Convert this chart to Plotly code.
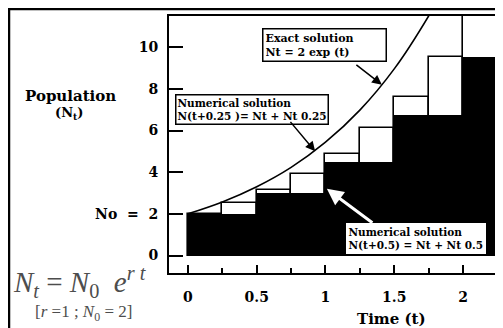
import plotly.graph_objects as go

# ---- data ----
# exact solution Nt = 2 exp(t)
curve_t = [0, 0.25, 0.5, 0.75, 1.0, 1.25, 1.5, 1.75, 1.85]
curve_n = [2, 2.57, 3.30, 4.23, 5.44, 6.98, 8.96, 11.5, 12.7]

# numerical solution with step 0.25 (white steps)
step25_t = [0.125, 0.375, 0.625, 0.875, 1.125, 1.375, 1.625, 1.875, 2.125]
step25_n = [2, 2.5, 3.125, 3.906, 4.883, 6.104, 7.629, 9.537, 11.92]

# numerical solution with step 0.5 (black steps)
step50_t = [0.25, 0.75, 1.25, 1.75, 2.25]
step50_n = [2, 3, 4.5, 6.75, 9.54]

y_tickvals = [0, 2, 4, 6, 8, 10]
y_ticktext = ["0", "No  =  2", "4", "6", "8", "10"]

# the page places the figure 8px from the window's top-left corner
OFF = 8
W, H = 503 - OFF, 328 - OFF
FONT = "DejaVu Serif"


def px(x):
    return (x - OFF) / W


def py(y):
    return 1 - (y - OFF) / H


fig = go.Figure()
fig.add_trace(go.Bar(x=step25_t, y=step25_n, width=0.25,
                     marker=dict(color="white", line=dict(color="black", width=1.6)),
                     showlegend=False, hoverinfo="skip"))
fig.add_trace(go.Bar(x=step50_t, y=step50_n, width=0.5,
                     marker=dict(color="black", line=dict(color="black", width=0)),
                     showlegend=False, hoverinfo="skip"))
fig.add_trace(go.Scatter(x=curve_t, y=curve_n, mode="lines",
                         line=dict(color="black", width=1.6, shape="spline"),
                         showlegend=False, hoverinfo="skip"))

annos = []
# text boxes
annos.append(dict(xref="paper", yref="paper", x=px(262), y=py(28), xanchor="left", yanchor="top",
                  text="<b>Exact solution<br>Nt = 2 exp (t)</b>", align="left", showarrow=False,
                  font=dict(family=FONT, size=11, color="black"), bgcolor="white", bordercolor="black",
                  borderwidth=1.5, borderpad=2, width=118))
annos.append(dict(xref="paper", yref="paper", x=px(175), y=py(94), xanchor="left", yanchor="top",
                  text="<b>Numerical solution<br>N(t+0.25 )= Nt + Nt 0.25</b>", align="left", showarrow=False,
                  font=dict(family=FONT, size=10.5, color="black"), bgcolor="white", bordercolor="black",
                  borderwidth=1.5, borderpad=1))
annos.append(dict(xref="paper", yref="paper", x=px(346), y=py(223), xanchor="left", yanchor="top",
                  text="<b>Numerical solution<br>N(t+0.5) = Nt + Nt 0.5</b>", align="left", showarrow=False,
                  font=dict(family=FONT, size=10.5, color="black"), bgcolor="white", bordercolor="white",
                  borderwidth=1.5, borderpad=1))
# arrows
annos.append(dict(x=1.41, y=8.2, xref="x", yref="y", ax=-27, ay=-21, text="", showarrow=True,
                  arrowhead=2, arrowsize=1.3, arrowwidth=1.5, arrowcolor="black"))
annos.append(dict(x=0.925, y=5.0, xref="x", yref="y", ax=-26, ay=-31, text="", showarrow=True,
                  arrowhead=2, arrowsize=1.3, arrowwidth=1.5, arrowcolor="black"))
annos.append(dict(x=1.01, y=3.2, xref="x", yref="y", ax=47, ay=35, text="", showarrow=True,
                  arrowhead=2, arrowsize=1.1, arrowwidth=3, arrowcolor="white"))
# axis titles
annos.append(dict(xref="paper", yref="paper", x=px(70), y=py(96), xanchor="center", yanchor="middle",
                  text="<b>Population</b>", showarrow=False, font=dict(family=FONT, size=15, color="black")))
annos.append(dict(xref="paper", yref="paper", x=px(69), y=py(113), xanchor="center", yanchor="middle",
                  text="<b>(N<sub>t</sub>)</b>", showarrow=False, font=dict(family=FONT, size=13, color="black")))
annos.append(dict(xref="paper", yref="paper", x=px(391), y=py(319), xanchor="center", yanchor="middle",
                  text="<b>Time (t)</b>", showarrow=False, font=dict(family=FONT, size=15, color="black")))
# formula
annos.append(dict(xref="paper", yref="paper", x=px(11), y=py(282), xanchor="left", yanchor="middle",
                  text="<i>N</i><sub><i>t</i></sub> = <i>N</i><sub>0</sub>  <i>e</i><sup><i>r t</i></sup>",
                  showarrow=False, font=dict(family="Liberation Serif", size=29, color="#4d4d4d")))
annos.append(dict(xref="paper", yref="paper", x=px(83), y=py(313), xanchor="center", yanchor="middle",
                  text="[<i>r</i> =1 ; <i>N</i><sub>0</sub> = 2]",
                  showarrow=False, font=dict(family="Liberation Serif", size=17, color="#4d4d4d")))

fig.update_layout(
    width=W, height=H, margin=dict(l=0, r=0, t=0, b=0),
    paper_bgcolor="white", plot_bgcolor="white", barmode="overlay", bargap=0,
    annotations=annos,
    shapes=[dict(type="rect", xref="paper", yref="paper", x0=px(9), x1=1.02, y0=-0.1, y1=py(9),
                 line=dict(color="black", width=2.5), layer="below")],
    xaxis=dict(domain=[px(169), px(496)], range=[-0.138, 2.24], tick0=0, dtick=0.5,
               showgrid=False, zeroline=False, showline=True, mirror=True, linecolor="black", linewidth=2,
               ticks="inside", ticklen=8, tickwidth=2, tickcolor="black", ticklabelstandoff=10,
               tickfont=dict(family=FONT, size=14, color="black"), tickprefix="<b>", ticksuffix="</b>",
               minor=dict(dtick=0.25, tick0=0, ticks="inside", ticklen=5, tickwidth=2, tickcolor="black")),
    yaxis=dict(domain=[py(273), py(16)], range=[-0.84, 11.5], tickvals=y_tickvals,
               ticktext=["<b>" + t + "</b>" for t in y_ticktext],
               showgrid=False, zeroline=False, showline=True, mirror=True, linecolor="black", linewidth=2,
               ticks="inside", ticklen=14, tickwidth=2, tickcolor="black", ticklabelstandoff=6,
               tickfont=dict(family=FONT, size=14, color="black")),
)

fig.write_html("out.html")
